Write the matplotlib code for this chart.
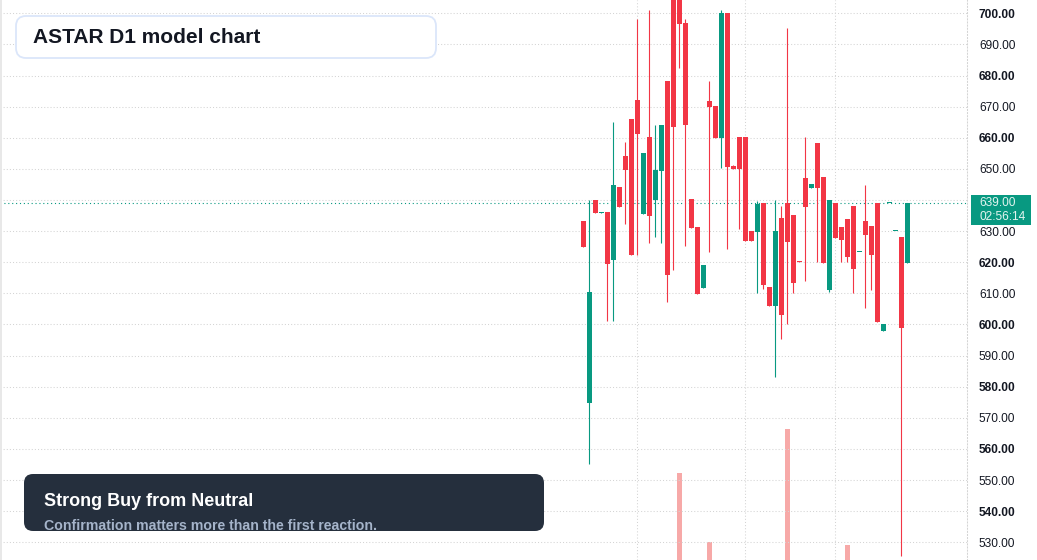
import matplotlib
matplotlib.use("Agg")
import matplotlib.pyplot as plt
from matplotlib.patches import FancyBboxPatch, Rectangle
import numpy as np

# ---- data (ASTAR D1) ----
opens = [633.2, 574.9, 640.0, 635.9, 636.1, 620.7, 644.2, 654.1, 666.0, 672.1,
         635.5, 660.2, 640.0, 649.3, 678.2, 710.0, 706.0, 696.9, 640.3, 631.3,
         611.8, 671.8, 670.2, 660.0, 700.0, 650.9, 660.2, 660.2, 630.0, 629.7,
         639.0, 612.0, 605.9, 634.2, 639.0, 635.2, 620.3, 647.1, 643.9, 658.3,
         647.4, 611.1, 639.0, 631.3, 633.9, 638.1, 623.2, 633.2, 631.6, 639.0,
         597.9, 639.0, 630.0, 628.1, 619.7]
highs = [633.2, 640.0, 640.0, 636.1, 636.1, 665.1, 644.2, 658.6, 666.0, 698.2,
         655.1, 701.1, 664.1, 664.1, 678.2, 712.0, 707.0, 698.2, 640.3, 631.3,
         619.1, 678.2, 670.2, 701.1, 700.0, 651.2, 660.2, 660.2, 630.0, 639.7,
         639.0, 612.0, 640.0, 638.1, 695.3, 635.2, 620.3, 660.2, 645.1, 658.3,
         647.4, 640.0, 639.0, 631.3, 633.9, 638.1, 623.3, 644.8, 631.6, 639.0,
         600.1, 639.1, 630.1, 628.1, 639.0]
lows = [625.0, 555.1, 635.9, 635.9, 601.1, 601.1, 637.7, 632.3, 622.3, 622.3,
        635.5, 626.2, 628.1, 626.2, 607.2, 617.5, 682.4, 625.2, 631.0, 609.8,
        611.8, 623.3, 660.0, 650.3, 624.2, 650.0, 630.7, 626.8, 626.8, 610.1,
        611.4, 605.9, 583.1, 595.3, 600.1, 610.1, 620.2, 614.0, 643.9, 620.1,
        619.7, 610.4, 627.8, 620.1, 620.1, 610.1, 623.2, 605.3, 611.1, 600.8,
        597.9, 639.0, 630.0, 525.5, 619.7]
closes = [625.0, 610.4, 635.9, 636.1, 619.4, 644.8, 637.7, 649.6, 622.3, 661.2,
          655.1, 634.9, 649.6, 664.1, 615.9, 663.5, 696.6, 664.1, 631.0, 609.8,
          619.1, 669.9, 660.0, 700.0, 650.6, 650.0, 650.0, 626.8, 626.8, 638.7,
          612.7, 605.9, 630.0, 603.0, 626.5, 613.3, 620.2, 637.7, 645.1, 643.9,
          619.7, 640.0, 627.8, 627.1, 621.7, 617.8, 623.3, 628.7, 622.3, 600.8,
          600.1, 639.1, 630.1, 598.9, 639.0]
volumes = [0, 0, 0, 0, 0, 0, 0, 0, 0, 0,
           0, 0, 0, 0, 0, 0, 870, 0, 0, 0,
           0, 180, 0, 0, 0, 0, 0, 0, 0, 0,
           0, 0, 0, 0, 1310, 0, 0, 0, 0, 0,
           0, 0, 0, 0, 150, 0, 0, 0, 0, 0,
           0, 0, 0, 0, 0]
price_ticks = list(range(530, 701, 10))
session_breaks = [9, 27, 42]
last_price = 639.00
countdown = "02:56:14"
title = "ASTAR D1 model chart"
signal_title = "Strong Buy from Neutral"
signal_sub = "Confirmation matters more than the first reaction."

UP = "#089981"
DOWN = "#f23645"
VOL_DOWN = "#f7a9a8"
GRID = "#d4d4d4"
TXT = "#131722"

W, H = 1037, 560
fig = plt.figure(figsize=(W / 100, H / 100), dpi=100)
fig.patch.set_facecolor("white")
plot_right = 967
ax = fig.add_axes([0, 0, plot_right / W, 1])

n = len(opens)
x = np.arange(n)
o = np.array(opens); c = np.array(closes); h = np.array(highs); l = np.array(lows)
up = c >= o
cols = np.where(up, UP, DOWN)

# volume on twin axis (drawn beneath candles)
axv = ax.twinx()
axv.bar(x, volumes, width=0.83, color=VOL_DOWN, zorder=1)
axv.set_ylim(0, 5600)
axv.axis("off")
ax.set_zorder(axv.get_zorder() + 1)
ax.patch.set_visible(False)

ax.vlines(x, l, h, colors=cols, linewidth=0.8, zorder=3)
bottoms = np.minimum(o, c)
heights = np.maximum(np.abs(c - o), 0.35)
ax.bar(x, heights, bottom=bottoms, width=0.83, color=cols, zorder=4, linewidth=0)

# current price line
ax.axhline(last_price, color=UP, linestyle=(0, (1, 2.5)), linewidth=0.8, zorder=2)

ax.set_xlim((0 - 583.3) / 6, (plot_right - 583.3) / 6)
ax.set_ylim(524.3, 704.27)

ax.set_yticks(price_ticks)
ax.set_yticklabels([f"{v:.2f}" for v in price_ticks])
ax.set_xticks(session_breaks)
ax.tick_params(axis="x", length=0, labelbottom=False)
ax.yaxis.tick_right()
ax.tick_params(axis="y", length=0, pad=8.6, labelsize=8.6, labelcolor=TXT)
for lab, v in zip(ax.get_yticklabels(), price_ticks):
    lab.set_fontfamily("Liberation Sans")
    lab.set_fontweight("bold" if v % 20 == 0 else "normal")
ax.grid(True, color=GRID, linestyle=(0, (1, 2)), linewidth=0.75)
for s in ["top", "left", "bottom"]:
    ax.spines[s].set_visible(False)
ax.spines["right"].set_color(GRID)
ax.spines["right"].set_linestyle((0, (1, 2)))
ax.spines["right"].set_linewidth(0.75)

# overlay in pixel coordinates for UI boxes
ov = fig.add_axes([0, 0, 1, 1], zorder=10)
ov.set_xlim(0, W); ov.set_ylim(H, 0); ov.axis("off"); ov.patch.set_visible(False)

ov.add_patch(Rectangle((0, 0), 2, H, color="#e8e8e8", lw=0))

ov.add_patch(FancyBboxPatch((16, 16), 420, 42, boxstyle="round,pad=0,rounding_size=10",
                            facecolor="white", edgecolor="#dbe6fa", linewidth=1.3))
ov.text(33, 37.5, title, fontsize=15, fontweight="bold", color=TXT,
        va="center", ha="left", family="Liberation Sans")

box = FancyBboxPatch((24, 474), 520, 57, boxstyle="round,pad=0,rounding_size=9",
                     facecolor="#252f3d", edgecolor="none")
ov.add_patch(box)
ov.text(44, 502, signal_title, fontsize=13, fontweight="bold", color="white",
        va="center", ha="left", family="Liberation Sans")
t2 = ov.text(44, 526, signal_sub, fontsize=10.2, fontweight="bold", color="#a5b4ca",
             va="center", ha="left", family="Liberation Sans")
t2.set_clip_path(box)

ov.add_patch(Rectangle((971, 195), 60, 30, facecolor=UP, edgecolor="none"))
ov.text(979, 203.5, f"{last_price:.2f}", fontsize=8.6, color="#e3f5f0",
        va="center", ha="left", family="Liberation Sans")
ov.text(979, 217.5, countdown, fontsize=8.6, color="#e3f5f0",
        va="center", ha="left", family="Liberation Sans")

fig.savefig("out.png", dpi=100, facecolor="white")
